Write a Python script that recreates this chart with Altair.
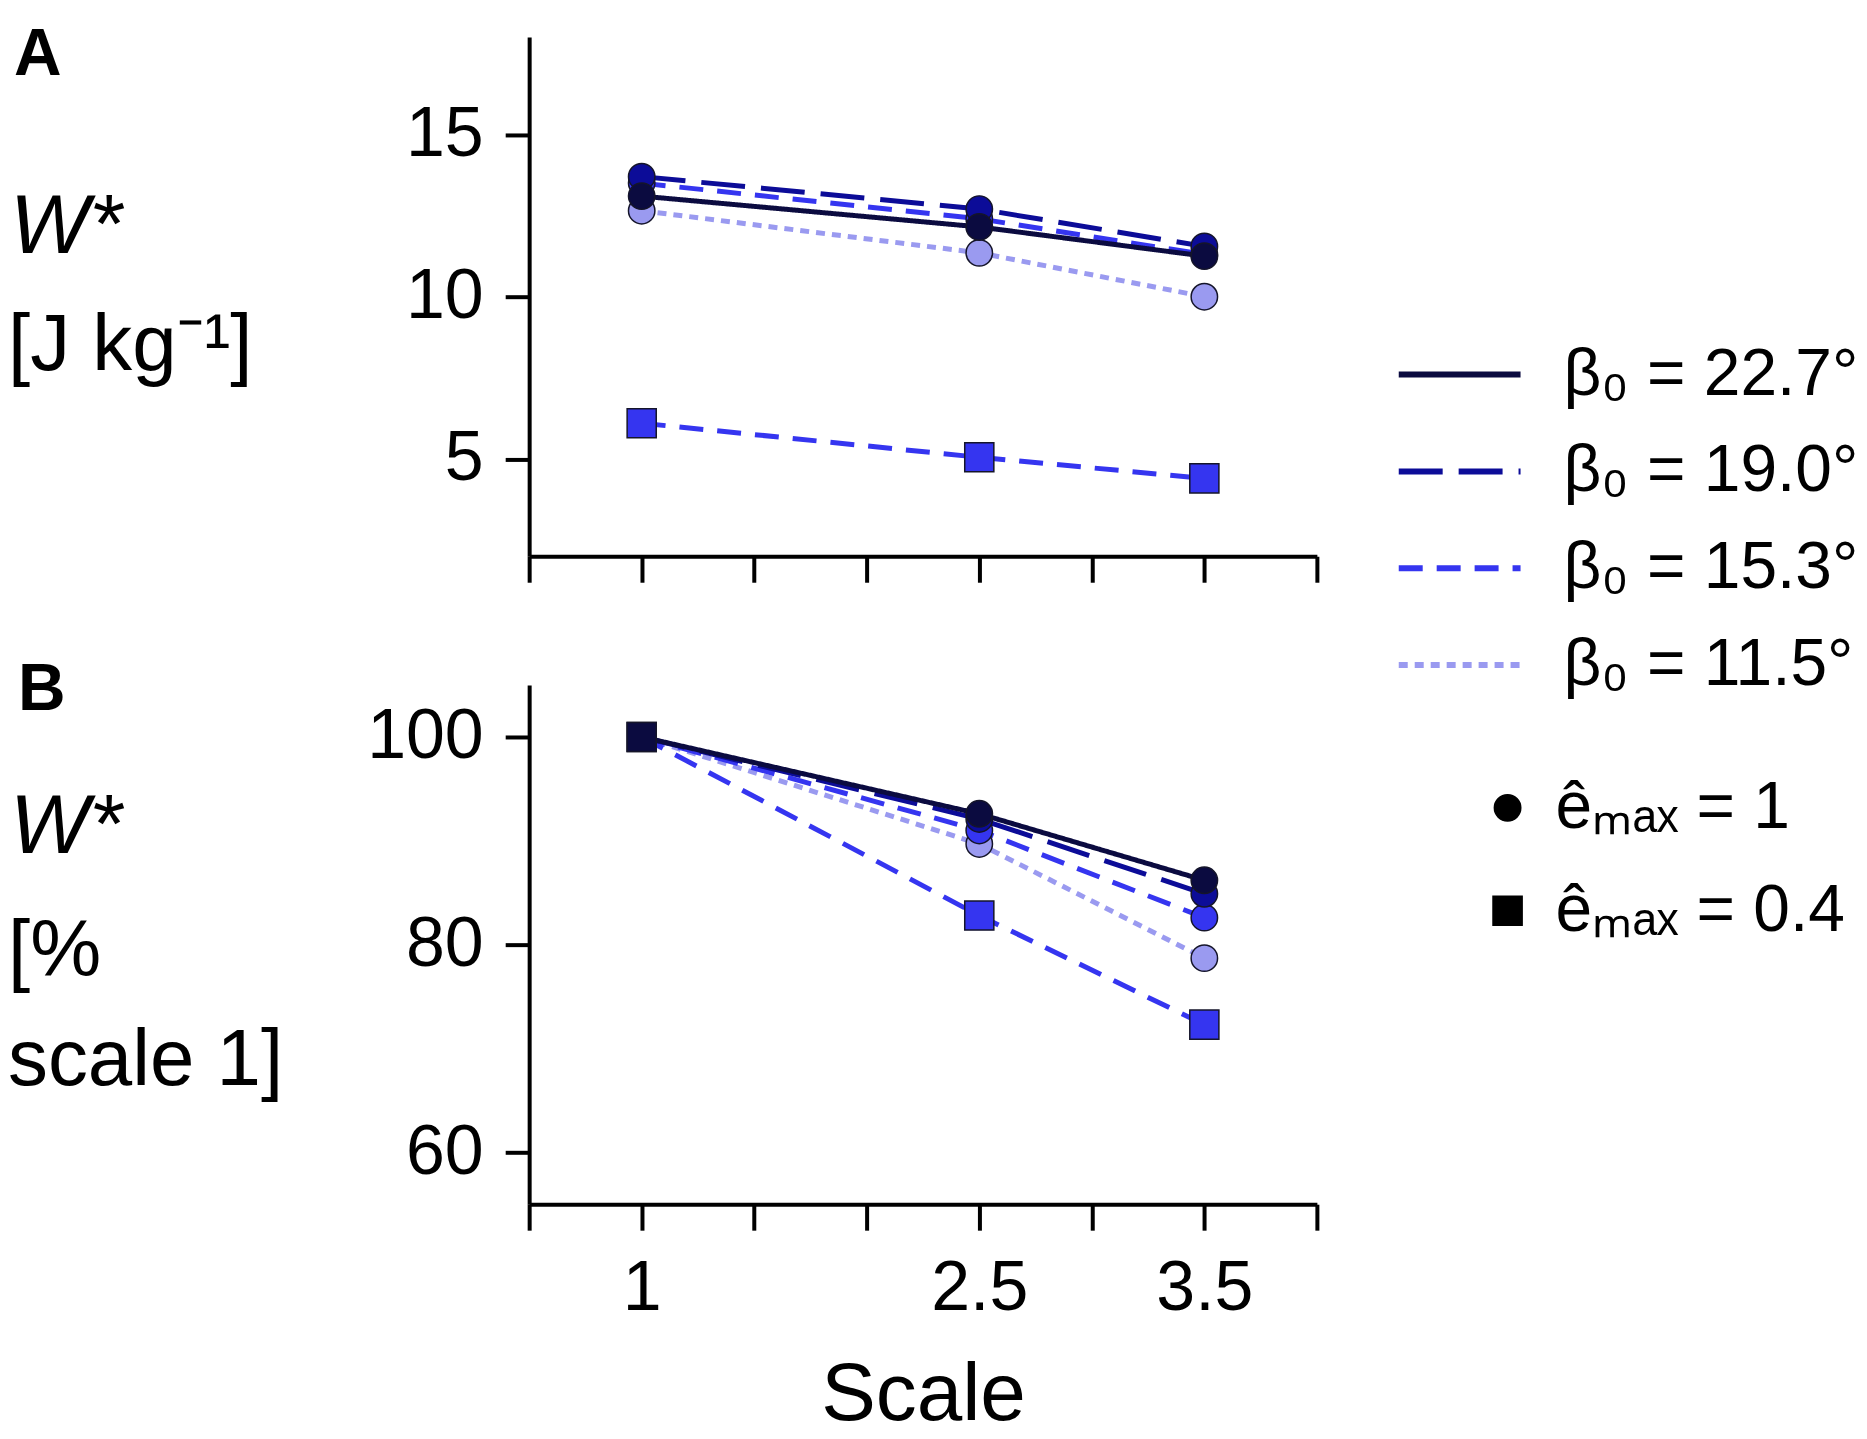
import altair as alt
import pandas as pd

# ---------------- data ----------------
scales = [1, 2.5, 3.5]
beta_names = ["β₀ = 22.7°", "β₀ = 19.0°", "β₀ = 15.3°", "β₀ = 11.5°"]
emax_names = ["êₘₐₓ = 1", "êₘₐₓ = 0.4"]

# Panel A : W* [J kg-1]
A_227 = [13.1, 12.15, 11.25]
A_190 = [13.7, 12.7, 11.55]
A_153 = [13.5, 12.4, 11.3]
A_115 = [12.65, 11.35, 10.0]
A_153_sq = [6.1, 5.05, 4.4]

# Panel B : W* [% scale 1]
B_227 = [100, 92.6, 86.2]
B_190 = [100, 92.1, 84.9]
B_153 = [100, 91.0, 82.6]
B_115 = [100, 89.7, 78.7]
B_153_sq = [100, 82.8, 72.3]
B_ref_scale = [1]
B_ref_value = [100]

x_ticks = [0.5, 1, 1.5, 2, 2.5, 3, 3.5, 4]
x_labelled = [1, 2.5, 3.5]
A_yticks = [5, 10, 15]
B_yticks = [60, 80, 100]

A_label_lines = ["W*", "[J kg⁻¹]"]
B_label_lines = ["W*", "[%", "scale 1]"]
x_title = "Scale"

# ---------------- styles ----------------
colors = ["#0b0b40", "#0c0c98", "#3535f0", "#9a9af0"]
dashes = [[1, 0], [44, 16], [24, 14], [9, 7]]
FONT = "Liberation Sans"

# draw order: light first, darkest last
series_order = [
    (3, 0, A_115, B_115),
    (2, 1, A_153_sq, B_153_sq),
    (2, 0, A_153, B_153),
    (1, 0, A_190, B_190),
    (0, 0, A_227, B_227),
]
rows = []
for bi, ei, a_vals, b_vals in series_order:
    for panel, vals in (("A", a_vals), ("B", b_vals)):
        for s, v in zip(scales, vals):
            rows.append({
                "panel": panel,
                "beta": beta_names[bi],
                "emax": emax_names[ei],
                "series": f"{bi}-{ei}",
                "scale": s,
                "value": v,
            })
df = pd.DataFrame(rows)
ref_df = pd.DataFrame({"scale": B_ref_scale, "value": B_ref_value})

line_legend = alt.Legend(
    title=None, orient="none", legendX=868, legendY=274,
    symbolType="stroke", symbolSize=14884, symbolStrokeWidth=6,
    labelFont=FONT, labelFontSize=66, labelColor="black", labelOffset=40,
    labelLimit=0, rowPadding=-10, padding=0,
)
shape_legend = alt.Legend(
    title=None, orient="none", legendX=947, legendY=739,
    symbolFillColor="black", symbolStrokeColor="black", symbolOpacity=1,
    labelFont=FONT, labelFontSize=66, labelColor="black", labelOffset=15,
    labelLimit=0, rowPadding=37, padding=0,
)

label_expr = "indexof(%s, datum.value) >= 0 ? datum.label : ''" % str(x_labelled)


def text_piece(txt, dx, dy, size, weight="normal", style="normal"):
    return alt.Chart(pd.DataFrame({"t": [txt]})).mark_text(
        align="left", baseline="alphabetic", font=FONT, fontSize=size,
        fontWeight=weight, fontStyle=style, color="black",
    ).encode(text="t:N", x=alt.value(dx), y=alt.value(dy))


def make_panel(panel, ydom, yticks, show_x, texts):
    d = df[df.panel == panel]
    x_axis = alt.Axis(
        values=x_ticks, labels=show_x, labelExpr=label_expr, format="~g",
        title=x_title if show_x else None, titleFont=FONT, titleFontSize=82,
        titleFontWeight="normal", titleColor="black", titlePadding=32,
        tickSize=26, labelPadding=24, labelOverlap=False, labelFlush=False,
    )
    y_axis = alt.Axis(
        values=yticks, title=None, tickSize=24, labelPadding=22,
        labelOverlap=False, labelFlush=False,
    )
    x = alt.X("scale:Q", scale=alt.Scale(domain=[0.5, 4], nice=False, zero=False), axis=x_axis)
    y = alt.Y("value:Q", scale=alt.Scale(domain=ydom, nice=False, zero=False), axis=y_axis)

    lines = alt.Chart(d).mark_line(strokeWidth=5).encode(
        x=x, y=y,
        color=alt.Color("beta:N", scale=alt.Scale(domain=beta_names, range=colors),
                        sort=beta_names, legend=line_legend),
        strokeDash=alt.StrokeDash("beta:N", scale=alt.Scale(domain=beta_names, range=dashes),
                                  sort=beta_names, legend=line_legend),
        detail="series:N",
    )
    pts = alt.Chart(d).mark_point(filled=True, opacity=1, stroke="#15152a", strokeWidth=1.5).encode(
        x=x, y=y,
        color=alt.Color("beta:N", scale=alt.Scale(domain=beta_names, range=colors), legend=None),
        shape=alt.Shape("emax:N", scale=alt.Scale(domain=emax_names, range=["circle", "square"]),
                        legend=shape_legend),
        size=alt.Size("emax:N", scale=alt.Scale(domain=emax_names, range=[700, 850]),
                      legend=shape_legend),
    )
    layers = [lines, pts]
    if panel == "B":
        layers.append(
            alt.Chart(ref_df).mark_point(shape="square", filled=True, opacity=1, size=850,
                                         color="#0b0b40", stroke="#15152a", strokeWidth=1.5)
            .encode(x=x, y=y)
        )
    layers += texts
    return alt.layer(*layers).properties(width=789, height=520)


A_texts = [
    text_piece("A", -516, 38, 66, weight="bold"),
    text_piece(A_label_lines[0], -520, 216, 84, style="italic"),
    text_piece(A_label_lines[1], -522, 333, 80),
]
B_texts = [
    text_piece("B", -512, 25, 66, weight="bold"),
    text_piece(B_label_lines[0], -520, 168, 84, style="italic"),
    text_piece(B_label_lines[1], -522, 291, 80),
    text_piece(B_label_lines[2], -522, 401, 80),
]

panel_a = make_panel("A", [2, 18], A_yticks, False, A_texts)
panel_b = make_panel("B", [55, 105], B_yticks, True, B_texts)

chart = alt.vconcat(panel_a, panel_b, spacing=73).properties(
    padding={"left": 0, "top": 13, "right": 0, "bottom": 0}
).configure_view(stroke=None).configure_axis(
    grid=False, domainColor="black", domainWidth=4, tickColor="black", tickWidth=4,
    labelFont=FONT, labelFontSize=70, labelColor="black",
)

chart.save("out.html", embed_options={"renderer": "svg", "actions": False})
